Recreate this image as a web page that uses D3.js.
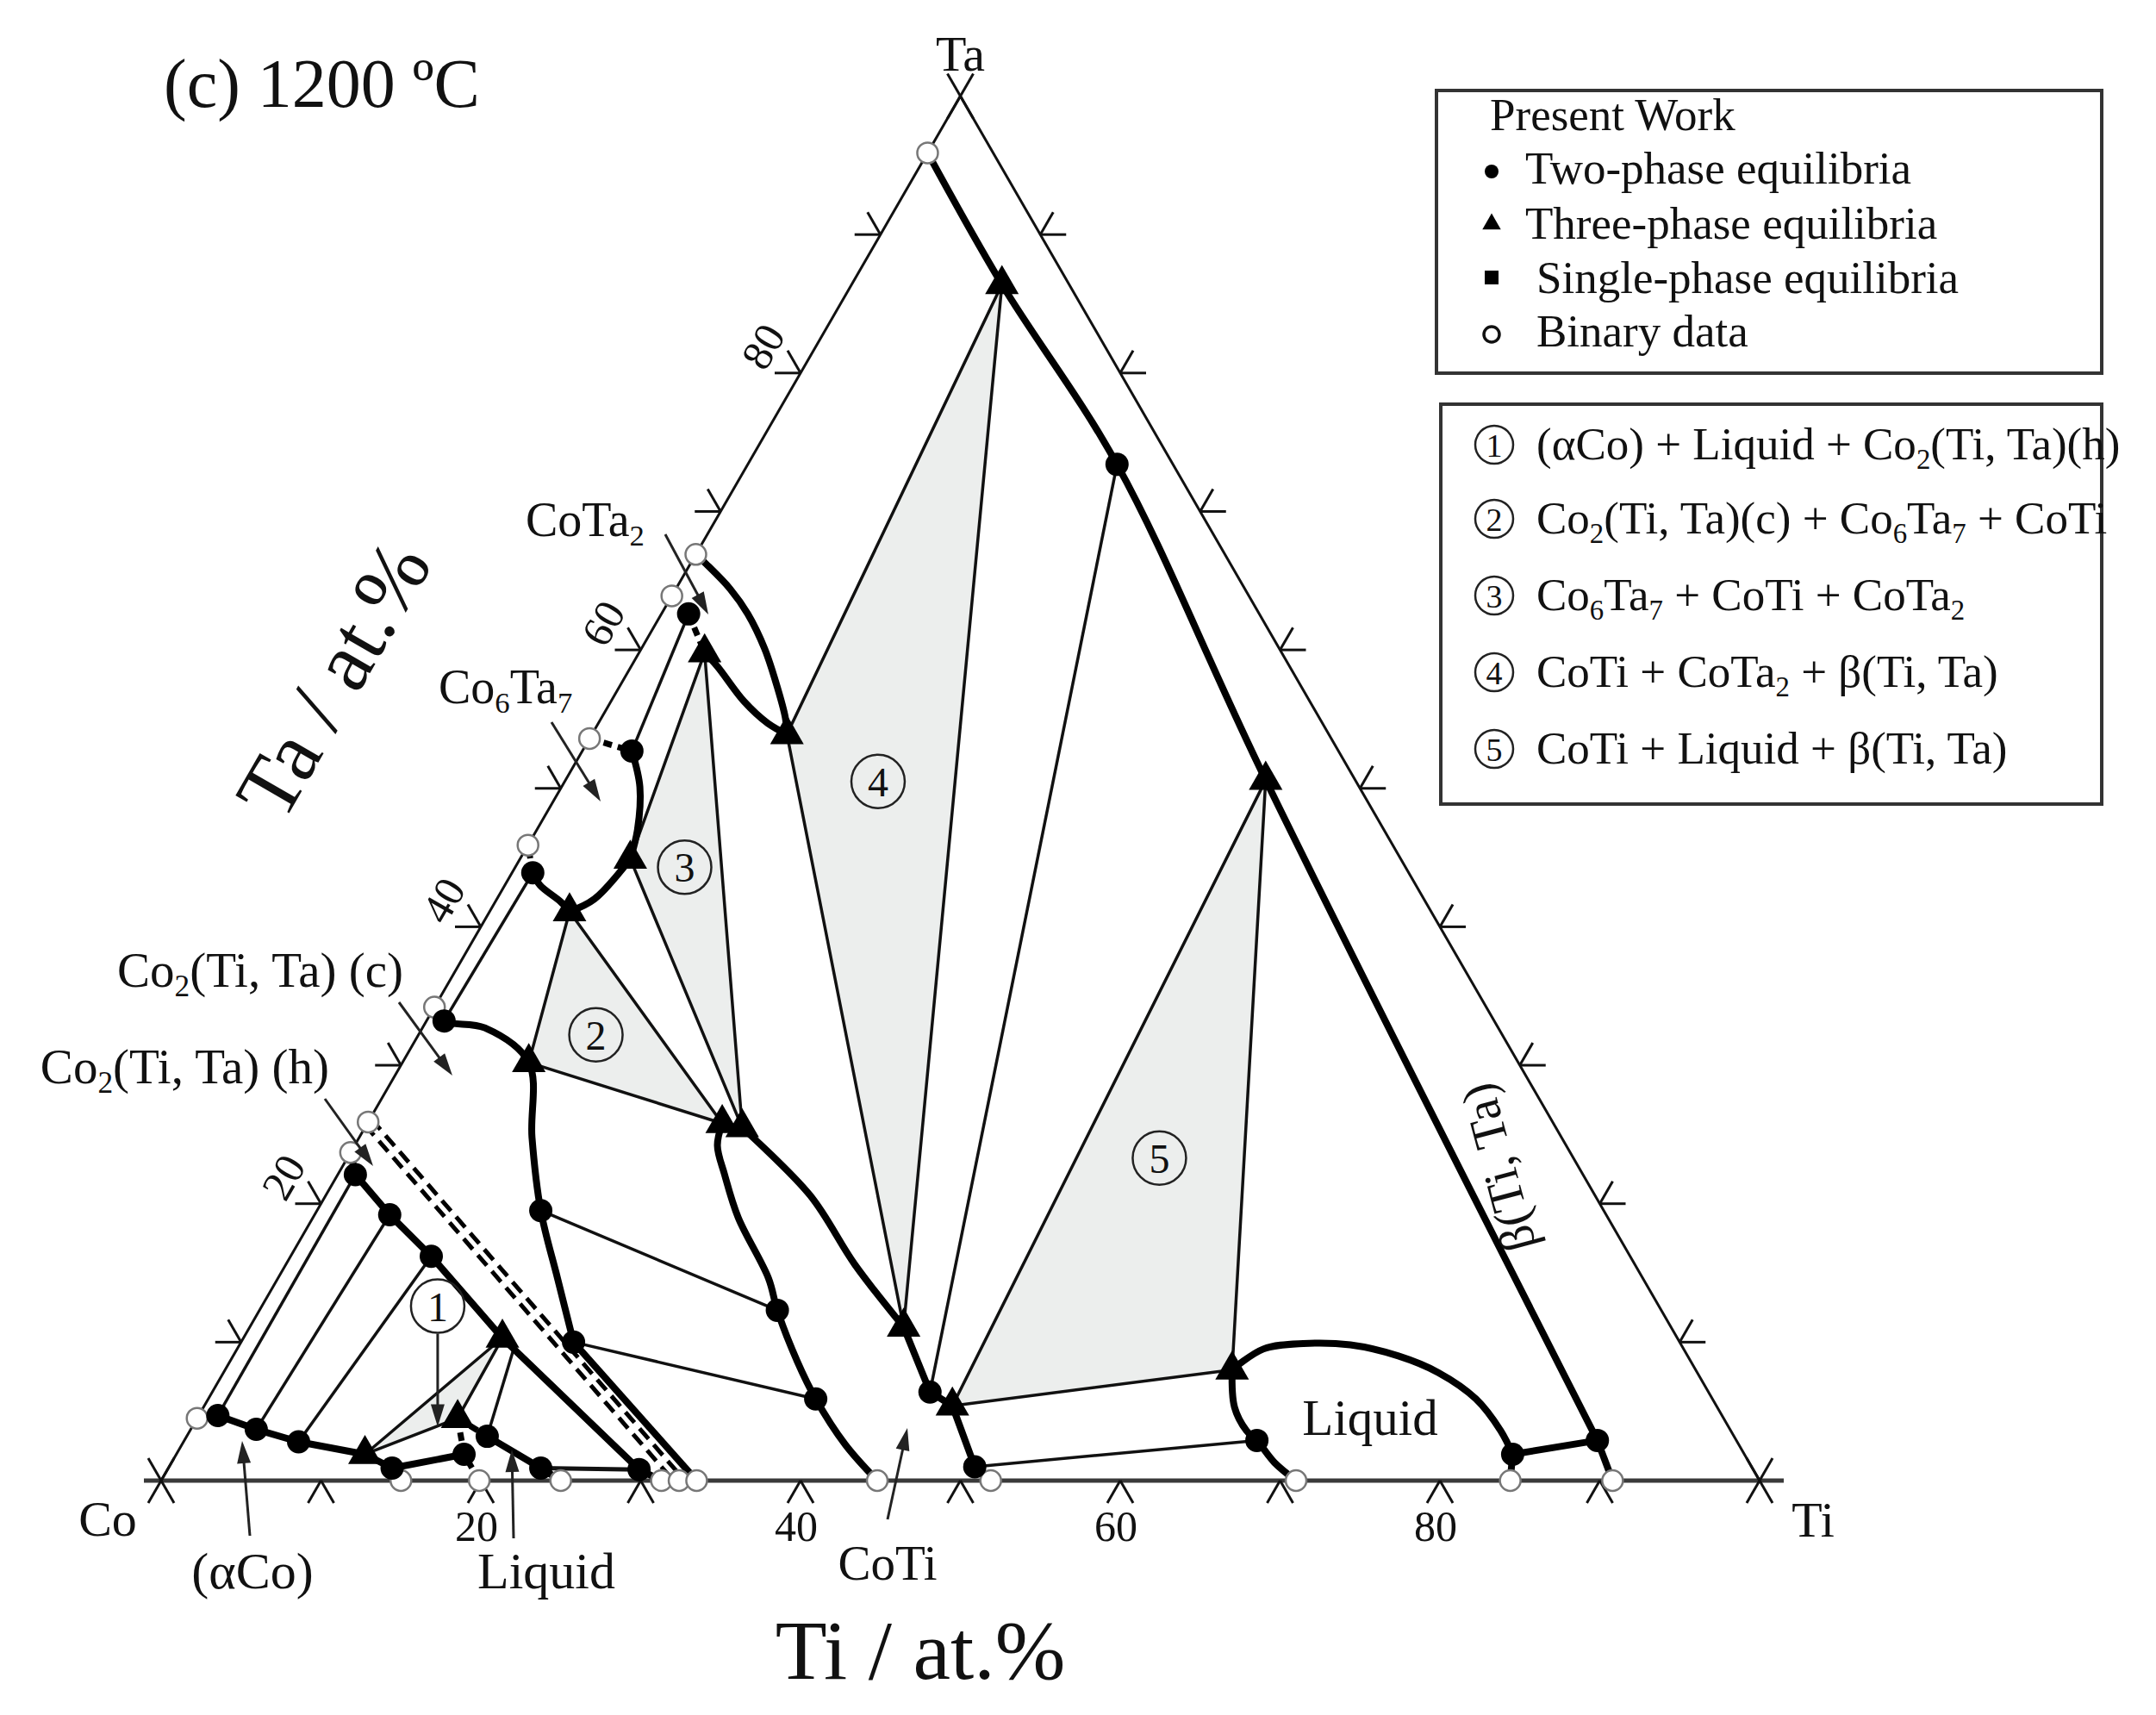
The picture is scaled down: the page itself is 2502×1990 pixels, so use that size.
<!DOCTYPE html>
<html><head><meta charset="utf-8">
<script src="https://cdn.jsdelivr.net/npm/d3@7/dist/d3.min.js"></script>
<style>
html,body{margin:0;padding:0;background:#fff}
svg{display:block}
text{font-family:"Liberation Serif","Times New Roman",serif;fill:#111}
</style>
</head><body>
<svg id="chart" width="2502" height="1990"></svg>
<script>
// ---------------- DATA (compositions as [Ti at.%, Ta at.%]) ----------------
const tickValues = [10,20,30,40,50,60,70,80,90];
const tickLabels = [20,40,60,80];

const binaryData = [[0,4.5],[0,23.7],[0,25.9],[0,34.2],[0,45.9],[0,53.6],[0,63.9],[0,66.9],[0,95.9],
  [15.0,0],[19.9,0],[25.0,0],[31.3,0],[32.4,0],[33.5,0],[44.8,0],[51.9,0],[71.0,0],[84.4,0],[90.8,0]];

const twoPhaseData = [[1.2,4.7],[4.1,3.7],[7.2,2.8],[14.0,0.9],
  [1.1,22.1],[4.7,19.2],[8.8,16.2],[29.5,0.8],
  [18.0,1.9],[18.8,3.2],[23.3,0.9],
  [1.1,33.2],[14.0,19.5],[20.8,10.0],
  [3.1,52.7],[1.3,43.9],[1.7,62.6],
  [32.4,12.3],[38.0,5.9],[44.9,6.4],[50.4,1.0],
  [23.1,73.4],[88.4,2.9],[67.1,2.9],[83.6,1.9]];

const threePhaseTriangles = [
  [[11.8,1.9],[16.3,4.5],[16.2,10.3]],
  [[5.0,41.1],[7.9,30.2],[22.2,25.8]],
  [[4.1,59.8],[6.9,44.9],[23.6,25.5]],
  [[12.2,53.9],[9.4,86.4],[40.9,11.1]],
  [[43.8,50.6],[46.8,5.4],[63.0,8.0]]];
const triangleIds = ["1","2","3","4","5"];
const triangleLabelAt = [[11.0,12.6],[11.1,32.2],[10.6,44.3],[19.6,50.5],[50.8,23.3]];

const tieLinesThin = [
  [[1.2,4.7],[1.1,22.1]], [[4.1,3.7],[4.7,19.2]], [[7.2,2.8],[8.8,16.2]],
  [[18.8,3.2],[17.3,9.5]], [[1.1,33.2],[1.3,43.9]], [[3.1,52.7],[1.7,62.6]],
  [[14.0,19.5],[32.4,12.3]], [[20.8,10.0],[38.0,5.9]],
  [[44.9,6.4],[23.1,73.4]], [[50.4,1.0],[67.1,2.9]]];
const tieLinesMid = [[[23.3,0.9],[29.5,0.8]]];
const tieLinesThick = [[[14.0,0.9],[18.0,1.9]], [[83.6,1.9],[88.4,2.9]]];

const boundariesStraight = [
  [[0,4.5],[1.2,4.7],[4.1,3.7],[7.2,2.8],[11.8,1.9],[14.0,0.9],[15.0,0]],
  [[18.8,3.2],[23.3,0.9],[25.0,0]],
  [[0,23.7],[1.1,22.1],[4.7,19.2],[8.8,16.2],[16.2,10.3],[29.5,0.8],[31.3,0]],
  [[20.8,10.0],[33.5,0]],
  [[40.9,11.1],[44.9,6.4],[46.8,5.4],[50.4,1.0],[51.9,0]],
  [[88.4,2.9],[90.8,0]],
  [[83.6,1.9],[84.4,0]]];
const boundariesCurved = [
  [[0,34.2],[1.1,33.2],[3.9,32.7],[7.9,30.2],[10.8,24.8],[14.0,19.5],[17.5,14.6],[20.8,10.0]],
  [[3.1,52.7],[4.9,50.1],[6.3,47.0],[6.9,44.9]],
  [[6.9,44.9],[6.1,42.0],[5.0,41.1]],
  [[5.0,41.1],[4.1,41.8],[2.2,43.0],[1.3,43.9]],
  [[0,66.9],[1.0,66.2],[3.4,64.4],[5.4,62.6],[7.7,60.1],[9.9,57.3],[11.5,55.1],[12.2,53.9]],
  [[4.1,59.8],[5.4,58.8],[8.3,56.3],[10.6,54.7],[12.2,53.9]],
  [[22.2,25.8],[22.7,24.2],[24.2,22.1],[26.6,19.0],[30.7,14.6],[32.4,12.3],[35.5,8.6],[38.0,5.9],[41.5,2.6],[44.8,0]],
  [[23.6,25.5],[30.3,20.6],[35.6,15.6],[40.9,11.1]],
  [[0,95.9],[9.4,86.4],[23.1,73.4],[43.8,50.6],[88.4,2.9]],
  [[63.0,8.0],[64.2,9.5],[66.5,9.9],[69.5,9.8],[72.9,9.0],[76.0,7.8],[79.3,5.9],[82.0,3.6],[83.6,1.9]],
  [[63.0,8.0],[64.5,5.3],[66.1,3.6],[67.1,2.9],[69.0,1.3],[71.0,0]]];
const boundariesDashed = [
  [[19.9,0],[18.0,1.9],[16.3,4.5]], [[16.3,4.5],[18.8,3.2]],
  [[0,53.6],[3.1,52.7]], [[1.3,43.9],[0,45.9]], [[1.7,62.6],[4.1,59.8]]];
const co2TransitionLine = [[0,25.9],[32.4,0]];

const legendItems = ["Two-phase equilibria","Three-phase equilibria","Single-phase equilibria","Binary data"];
const reactionItems = ["(αCo) + Liquid + Co_{2}(Ti, Ta)(h)",
  "Co_{2}(Ti, Ta)(c) + Co_{6}Ta_{7} + CoTi",
  "Co_{6}Ta_{7} + CoTi + CoTa_{2}",
  "CoTi + CoTa_{2} + β(Ti, Ta)",
  "CoTi + Liquid + β(Ti, Ta)"];

// ---------------- LAYOUT ----------------
const svg = d3.select("#chart");
const x0 = 187, x1 = 2042, yb = 1718;
const side = x1 - x0, ht = side*Math.sqrt(3)/2;
const xs = d3.scaleLinear().domain([0,100]).range([x0,x1]);
const ys = d3.scaleLinear().domain([0,100]).range([yb, yb-ht]);
const P = d => [xs(d[0] + d[1]/2), ys(d[1])];
const S = 0.5, C = Math.sqrt(3)/2;

function rich(sel, str, fs){
  const parts = str.split(/_\{([^}]*)\}/);
  let shifted = false;
  parts.forEach((p,i)=>{
    if(p==="") return;
    const t = sel.append("tspan").text(p);
    if(i%2===1){ t.attr("font-size", fs*0.62).attr("dy", shifted?0:fs*0.2); shifted = true; }
    else if(shifted){ t.attr("dy", -fs*0.2); shifted = false; }
  });
  return sel;
}
function txt(g, x, y, str, fs, anchor="start", rot=0){
  const t = g.append("text").attr("transform",`translate(${x},${y}) rotate(${rot})`)
    .attr("font-size", fs).attr("text-anchor", anchor);
  rich(t, str, fs);
  return t;
}
function arrow(g, a, b){
  const dx=b[0]-a[0], dy=b[1]-a[1], len=Math.hypot(dx,dy), ux=dx/len, uy=dy/len;
  const hl=26, hw=8;
  g.append("line").attr("x1",a[0]).attr("y1",a[1]).attr("x2",b[0]-ux*hl*0.6).attr("y2",b[1]-uy*hl*0.6)
    .attr("stroke","#222").attr("stroke-width",3);
  g.append("polygon").attr("points",[b,[b[0]-ux*hl-uy*hw,b[1]-uy*hl+ux*hw],[b[0]-ux*hl+uy*hw,b[1]-uy*hl-ux*hw]].map(p=>p.join(",")).join(" "))
    .attr("fill","#222");
}

// ---------------- FRAME & TICKS ----------------
const gFrame = svg.append("g");
const Co = P([0,0]), Ti = P([100,0]), Ta = P([0,100]);
gFrame.append("line").attr("x1",Co[0]-20).attr("y1",Co[1]).attr("x2",Ti[0]+28).attr("y2",Ti[1])
  .attr("stroke","#3a3a3a").attr("stroke-width",5);
gFrame.append("path").attr("d",d3.line()([Co,Ta,Ti])).attr("fill","none").attr("stroke","#111").attr("stroke-width",3);
const L = 30;
const tickSegs = [];
tickValues.forEach(v=>{
  const b = P([v,0]);  tickSegs.push([b,[b[0]-S*L,b[1]+C*L]],[b,[b[0]+S*L,b[1]+C*L]]);
  const l = P([0,v]);  tickSegs.push([l,[l[0]-L,l[1]]],[l,[l[0]-S*L,l[1]-C*L]]);
  const r = P([100-v,v]); tickSegs.push([r,[r[0]+L,r[1]]],[r,[r[0]+S*L,r[1]-C*L]]);
});
[Co,Ti,Ta].forEach(c=>{
  tickSegs.push([[c[0]-S*L,c[1]-C*L],[c[0]+S*L,c[1]+C*L]],[[c[0]-S*L,c[1]+C*L],[c[0]+S*L,c[1]-C*L]]);
});
gFrame.selectAll("line.tk").data(tickSegs).join("line").attr("class","tk")
  .attr("x1",d=>d[0][0]).attr("y1",d=>d[0][1]).attr("x2",d=>d[1][0]).attr("y2",d=>d[1][1])
  .attr("stroke","#111").attr("stroke-width",3);

// tick labels
const gLab = svg.append("g");
tickLabels.forEach(v=>{
  const b = P([v,0]);
  gLab.append("text").attr("x",b[0]-5).attr("y",b[1]+70).attr("font-size",50).attr("text-anchor","middle").text(v);
  const l = P([0,v]);
  gLab.append("text").attr("transform",`translate(${l[0]-44},${l[1]-31}) rotate(-60)`)
    .attr("font-size",50).attr("text-anchor","middle").attr("dy","0.35em").text(v);
});

// ---------------- PHASE DIAGRAM ----------------
const gD = svg.append("g");
gD.selectAll("polygon.tri").data(threePhaseTriangles).join("polygon").attr("class","tri")
  .attr("points",d=>d.map(P).map(p=>p.join(",")).join(" "))
  .attr("fill","#eceeed").attr("stroke","#111").attr("stroke-width",3.5).attr("stroke-linejoin","round");

const lineLin = d3.line().x(d=>P(d)[0]).y(d=>P(d)[1]);
const lineSm = d3.line().x(d=>P(d)[0]).y(d=>P(d)[1]).curve(d3.curveCatmullRom.alpha(0.5));

gD.selectAll("path.tie").data(tieLinesThin).join("path").attr("class","tie")
  .attr("d",lineLin).attr("fill","none").attr("stroke","#111").attr("stroke-width",3.5);
gD.selectAll("path.tiem").data(tieLinesMid).join("path").attr("class","tiem")
  .attr("d",lineLin).attr("fill","none").attr("stroke","#111").attr("stroke-width",5);
gD.selectAll("path.tiek").data(tieLinesThick).join("path").attr("class","tiek")
  .attr("d",lineLin).attr("fill","none").attr("stroke","#000").attr("stroke-width",8);

// Co2(h)/Co2(c) double dashed line
[-5,5].forEach(off=>{
  const a=P(co2TransitionLine[0]), b=P(co2TransitionLine[1]);
  const dx=b[0]-a[0], dy=b[1]-a[1], len=Math.hypot(dx,dy);
  const nx=-dy/len*off, ny=dx/len*off;
  gD.append("path").attr("d",lineLin(co2TransitionLine)).attr("transform",`translate(${nx},${ny})`)
    .attr("fill","none").attr("stroke","#000").attr("stroke-width",5).attr("stroke-dasharray","16,9");
});

gD.selectAll("path.bs").data(boundariesStraight).join("path").attr("class","bs")
  .attr("d",lineLin).attr("fill","none").attr("stroke","#000").attr("stroke-width",8).attr("stroke-linejoin","round");
gD.selectAll("path.bc").data(boundariesCurved).join("path").attr("class","bc")
  .attr("d",lineSm).attr("fill","none").attr("stroke","#000").attr("stroke-width",8).attr("stroke-linecap","butt");
gD.selectAll("path.bd").data(boundariesDashed).join("path").attr("class","bd")
  .attr("d",lineLin).attr("fill","none").attr("stroke","#000").attr("stroke-width",7).attr("stroke-dasharray","10,7");

// markers
gD.selectAll("circle.bin").data(binaryData).join("circle").attr("class","bin")
  .attr("cx",d=>P(d)[0]).attr("cy",d=>P(d)[1]).attr("r",12)
  .attr("fill","#fff").attr("stroke","#777").attr("stroke-width",2.5);
gD.selectAll("circle.two").data(twoPhaseData).join("circle").attr("class","two")
  .attr("cx",d=>P(d)[0]).attr("cy",d=>P(d)[1]).attr("r",13.5).attr("fill","#000");
const triSym = d3.symbol().type(d3.symbolTriangle).size(660);
const triVerts = threePhaseTriangles.flat();
gD.selectAll("path.three").data(triVerts).join("path").attr("class","three")
  .attr("d",triSym()).attr("transform",d=>`translate(${P(d)[0]},${P(d)[1]})`).attr("fill","#000");

// circled triangle labels
const gC = svg.append("g");
triangleLabelAt.forEach((d,i)=>{
  const p = P(d);
  gC.append("circle").attr("cx",p[0]).attr("cy",p[1]).attr("r",31).attr("fill","none").attr("stroke","#222").attr("stroke-width",2.5);
  gC.append("text").attr("x",p[0]).attr("y",p[1]+17).attr("font-size",48).attr("text-anchor","middle").text(triangleIds[i]);
});

// ---------------- TEXT & ANNOTATIONS ----------------
const gT = svg.append("g");
txt(gT,190,124,"(c) 1200 ºC",80);
txt(gT,Ta[0],82,"Ta",58,"middle");
txt(gT,125,1782,"Co",58,"middle");
txt(gT,2104,1783,"Ti",58,"middle");
txt(gT,1068,1948,"Ti / at.%",98,"middle");
txt(gT,386,788,"Ta / at.%",98,"middle",-60).attr("dy",34);

txt(gT,610,622,"CoTa_{2}",56);
txt(gT,509,816,"Co_{6}Ta_{7}",56);
txt(gT,468,1145,"Co_{2}(Ti, Ta) (c)",57,"end");
txt(gT,382,1257,"Co_{2}(Ti, Ta) (h)",57,"end");
txt(gT,293,1843,"(αCo)",60,"middle");
txt(gT,634,1843,"Liquid",60,"middle");
txt(gT,1030,1833,"CoTi",57,"middle");
txt(gT,1590,1665,"Liquid",59,"middle");
txt(gT,1738,1355,"β(Ti, Ta)",57,"middle",-105).attr("dy",20);

const gA = svg.append("g");
arrow(gA,[772,620],[822,713]);
arrow(gA,[640,838],[697,930]);
arrow(gA,[463,1163],[525,1248]);
arrow(gA,[377,1275],[433,1353]);
arrow(gA,[290,1782],[281,1672]);
arrow(gA,[596,1785],[594,1682]);
arrow(gA,[1030,1763],[1053,1657]);
const c1 = P(triangleLabelAt[0]);
arrow(gA,[c1[0],c1[1]+32],[c1[0],c1[1]+140]);

// ---------------- LEGENDS ----------------
const gL = svg.append("g");
gL.append("rect").attr("x",1667).attr("y",105).attr("width",772).attr("height",328)
  .attr("fill","#fff").attr("stroke","#333").attr("stroke-width",4);
gL.append("rect").attr("x",1672).attr("y",469).attr("width",767).attr("height",464)
  .attr("fill","#fff").attr("stroke","#333").attr("stroke-width",4);
txt(gL,1729,151,"Present Work",53);
const legY = [213,277,340,402], legX = [1770,1770,1783,1783];
legendItems.forEach((s,i)=> txt(gL,legX[i],legY[i],s,53));
gL.append("circle").attr("cx",1731).attr("cy",199).attr("r",8).attr("fill","#000");
gL.append("path").attr("d",d3.symbol().type(d3.symbolTriangle).size(200)()).attr("transform","translate(1731,260)").attr("fill","#000");
gL.append("rect").attr("x",1723).attr("y",314).attr("width",16).attr("height",16).attr("fill","#000");
gL.append("circle").attr("cx",1731).attr("cy",388).attr("r",9).attr("fill","#fff").attr("stroke","#111").attr("stroke-width",3.5);
const rxY = [533,619,708,797,886];
reactionItems.forEach((s,i)=>{
  txt(gL,1783,rxY[i],s,53);
  gL.append("circle").attr("cx",1734).attr("cy",rxY[i]-17).attr("r",22).attr("fill","none").attr("stroke","#222").attr("stroke-width",2.5);
  gL.append("text").attr("x",1734).attr("y",rxY[i]-3).attr("font-size",38).attr("text-anchor","middle").text(triangleIds[i]);
});
</script>
</body></html>
